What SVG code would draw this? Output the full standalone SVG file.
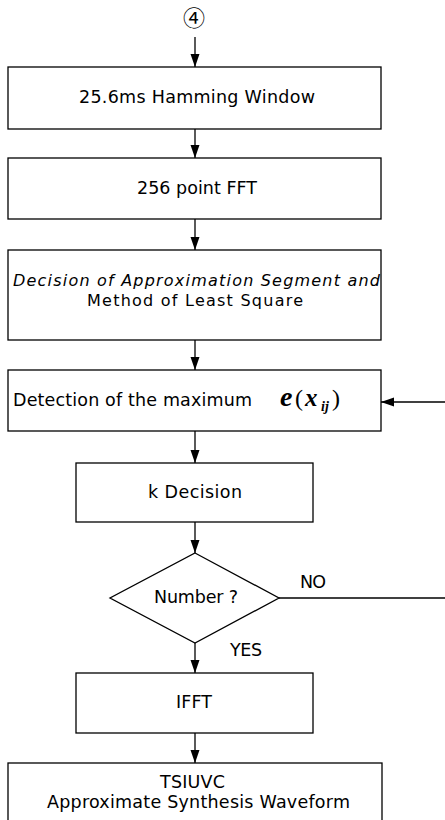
<svg xmlns="http://www.w3.org/2000/svg" width="445" height="820" viewBox="0 0 445 820">
<style>
  .box { fill: #fff; stroke: #000; stroke-width: 1.3; }
  .lbl { font-family: "DejaVu Sans", "Liberation Sans", sans-serif; font-size: 17.5px; fill: #000; }
  .sm { font-size: 16px; }
  .it { font-style: italic; }
  .math { font-family: "Liberation Serif", "Times New Roman", serif; fill: #000; }
  .conn { fill: none; stroke: #000; stroke-width: 1.3; }
</style>
<defs>
  <marker id="ah" markerUnits="userSpaceOnUse" markerWidth="14" markerHeight="10" refX="13" refY="4.5" orient="auto">
    <path d="M0,0 L13,4.5 L0,9 z" fill="#000"/>
  </marker>
</defs>
<rect width="445" height="820" fill="#fff"/>

<g id="start">
  <text x="194" y="25.5" text-anchor="middle" font-family="'Noto Sans CJK KR', 'DejaVu Sans', sans-serif" font-size="22" fill="#000">④</text>
</g>

<g id="hamming">
  <rect class="box" x="8" y="67" width="373" height="62"/>
  <text class="lbl" x="79" y="103" textLength="236">25.6ms Hamming Window</text>
</g>

<g id="fft">
  <rect class="box" x="8" y="158" width="373" height="61"/>
  <text class="lbl" x="137" y="194" textLength="120">256 point FFT</text>
</g>

<g id="decision">
  <rect class="box" x="8" y="250" width="373" height="90"/>
  <text class="lbl sm it" x="13" y="286" textLength="367">Decision of Approximation Segment and</text>
  <text class="lbl sm" x="87" y="306" textLength="216">Method of Least Square</text>
</g>

<g id="detection">
  <rect class="box" x="8" y="370" width="373" height="61"/>
  <text class="lbl" x="13" y="406" textLength="239">Detection of the maximum</text>
  <text class="math" x="280" y="406" font-size="28" font-style="italic" font-weight="bold">e</text>
  <text class="math" x="295" y="406" font-size="24">(</text>
  <text class="math" x="305" y="406" font-size="25" font-style="italic" font-weight="bold">x</text>
  <text class="math" x="321" y="411" font-size="14" font-style="italic" font-weight="bold">ij</text>
  <text class="math" x="332" y="406" font-size="24">)</text>
</g>

<g id="kdecision">
  <rect class="box" x="76" y="463" width="237" height="59"/>
  <text class="lbl" x="148" y="498" textLength="94">k Decision</text>
</g>

<g id="number">
  <polygon class="box" points="195,553 279,598 195,643 110,598"/>
  <text class="lbl" x="154" y="603" textLength="84">Number ?</text>
</g>

<g id="ifft">
  <rect class="box" x="76" y="673" width="237" height="60"/>
  <text class="lbl" x="176" y="708" textLength="36">IFFT</text>
</g>

<g id="tsiuvc">
  <rect class="box" x="8" y="763" width="374" height="70"/>
  <text class="lbl" x="160" y="788" textLength="65">TSIUVC</text>
  <text class="lbl" x="47" y="808" textLength="303">Approximate Synthesis Waveform</text>
</g>

<g id="connectors">
  <line class="conn" x1="195" y1="37" x2="195" y2="67" marker-end="url(#ah)"/>
  <line class="conn" x1="195" y1="129" x2="195" y2="158" marker-end="url(#ah)"/>
  <line class="conn" x1="195" y1="219" x2="195" y2="250" marker-end="url(#ah)"/>
  <line class="conn" x1="195" y1="340" x2="195" y2="370" marker-end="url(#ah)"/>
  <line class="conn" x1="195" y1="431" x2="195" y2="463" marker-end="url(#ah)"/>
  <line class="conn" x1="195" y1="522" x2="195" y2="553" marker-end="url(#ah)"/>
  <line class="conn" x1="195" y1="643" x2="195" y2="673" marker-end="url(#ah)"/>
  <line class="conn" x1="195" y1="733" x2="195" y2="763" marker-end="url(#ah)"/>
  <line class="conn" x1="279" y1="598" x2="445" y2="598"/>
  <line class="conn" x1="445" y1="402" x2="381" y2="402" marker-end="url(#ah)"/>
  <text class="lbl" x="300" y="588" textLength="26">NO</text>
  <text class="lbl" x="230" y="656" textLength="32">YES</text>
</g>
</svg>
